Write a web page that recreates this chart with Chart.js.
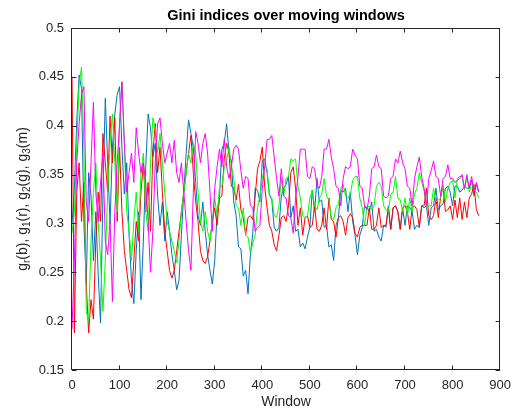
<!DOCTYPE html>
<html>
<head>
<meta charset="utf-8">
<script src="https://cdn.jsdelivr.net/npm/chart.js@4"></script>
<style>
  html, body { margin: 0; padding: 0; background: #fff; }
  #wrap { width: 519px; height: 414px; }
</style>
</head>
<body>
<div id="wrap"><canvas id="chart"></canvas></div>
<script>
// window index of every sample (step 5)
const windowStep = 5
const windows = Array.from({ length: 172 }, (_, i) => i * windowStep)

const giniB = [
    0.300, 0.335, 0.405, 0.452, 0.438, 0.300, 0.238, 0.352, 0.328, 0.262, 0.312, 0.248, 0.198, 0.330, 0.428, 0.362, 0.300, 0.378, 0.412, 0.432,
    0.440, 0.378, 0.330, 0.362, 0.288, 0.242, 0.218, 0.272, 0.312, 0.222, 0.282, 0.358, 0.412, 0.398, 0.368, 0.382, 0.328, 0.298, 0.322, 0.282,
    0.312, 0.292, 0.268, 0.252, 0.232, 0.242, 0.288, 0.332, 0.372, 0.406, 0.392, 0.378, 0.342, 0.308, 0.298, 0.322, 0.292, 0.268, 0.252, 0.238,
    0.262, 0.312, 0.328, 0.376, 0.382, 0.402, 0.372, 0.364, 0.322, 0.308, 0.276, 0.274, 0.246, 0.252, 0.228, 0.268, 0.290, 0.336, 0.334, 0.322,
    0.364, 0.366, 0.352, 0.330, 0.324, 0.296, 0.292, 0.296, 0.328, 0.336, 0.340, 0.348, 0.306, 0.318, 0.292, 0.294, 0.276, 0.280, 0.274, 0.286,
    0.296, 0.334, 0.312, 0.346, 0.322, 0.324, 0.296, 0.298, 0.276, 0.278, 0.262, 0.298, 0.306, 0.334, 0.332, 0.336, 0.312, 0.332, 0.302, 0.288,
    0.268, 0.288, 0.296, 0.318, 0.316, 0.312, 0.322, 0.292, 0.294, 0.286, 0.282, 0.298, 0.296, 0.318, 0.294, 0.316, 0.318, 0.312, 0.294, 0.316,
    0.298, 0.318, 0.316, 0.312, 0.294, 0.298, 0.296, 0.318, 0.316, 0.318, 0.298, 0.316, 0.318, 0.336, 0.314, 0.318, 0.320, 0.336, 0.338, 0.332,
    0.318, 0.338, 0.338, 0.332, 0.334, 0.338, 0.336, 0.336, 0.344, 0.328, 0.340, 0.332
]

const giniR = [
    0.450, 0.188, 0.332, 0.362, 0.302, 0.342, 0.238, 0.188, 0.222, 0.202, 0.282, 0.332, 0.302, 0.392, 0.362, 0.332, 0.410, 0.362, 0.408, 0.302,
    0.378, 0.312, 0.272, 0.252, 0.232, 0.224, 0.262, 0.302, 0.282, 0.332, 0.362, 0.312, 0.342, 0.292, 0.372, 0.402, 0.352, 0.378, 0.332, 0.292,
    0.272, 0.252, 0.244, 0.252, 0.272, 0.292, 0.312, 0.332, 0.352, 0.372, 0.390, 0.352, 0.322, 0.302, 0.272, 0.262, 0.259, 0.266, 0.282, 0.302,
    0.316, 0.298, 0.326, 0.328, 0.366, 0.382, 0.372, 0.338, 0.336, 0.324, 0.340, 0.314, 0.306, 0.288, 0.306, 0.308, 0.304, 0.328, 0.356, 0.364,
    0.378, 0.338, 0.316, 0.298, 0.292, 0.278, 0.272, 0.288, 0.306, 0.308, 0.302, 0.318, 0.352, 0.358, 0.336, 0.298, 0.316, 0.288, 0.306, 0.308,
    0.296, 0.298, 0.318, 0.294, 0.292, 0.298, 0.316, 0.294, 0.326, 0.304, 0.302, 0.286, 0.306, 0.308, 0.302, 0.288, 0.306, 0.310, 0.306, 0.290,
    0.286, 0.296, 0.298, 0.298, 0.298, 0.316, 0.294, 0.294, 0.298, 0.316, 0.296, 0.298, 0.298, 0.316, 0.294, 0.316, 0.318, 0.312, 0.294, 0.316,
    0.318, 0.312, 0.294, 0.316, 0.318, 0.314, 0.296, 0.318, 0.318, 0.336, 0.308, 0.304, 0.308, 0.326, 0.306, 0.328, 0.338, 0.312, 0.314, 0.318,
    0.304, 0.324, 0.306, 0.326, 0.304, 0.322, 0.306, 0.326, 0.330, 0.340, 0.314, 0.308
]

const giniG = [
    0.290, 0.312, 0.382, 0.442, 0.460, 0.378, 0.210, 0.200, 0.282, 0.332, 0.362, 0.302, 0.262, 0.210, 0.262, 0.332, 0.382, 0.412, 0.362, 0.312,
    0.402, 0.445, 0.382, 0.312, 0.292, 0.262, 0.302, 0.332, 0.292, 0.352, 0.372, 0.312, 0.292, 0.362, 0.408, 0.398, 0.372, 0.392, 0.362, 0.332,
    0.302, 0.292, 0.282, 0.272, 0.260, 0.282, 0.312, 0.332, 0.352, 0.372, 0.362, 0.382, 0.372, 0.332, 0.302, 0.292, 0.312, 0.292, 0.282, 0.302,
    0.326, 0.308, 0.336, 0.338, 0.356, 0.364, 0.378, 0.358, 0.346, 0.318, 0.316, 0.298, 0.316, 0.288, 0.286, 0.270, 0.280, 0.288, 0.316, 0.328,
    0.346, 0.358, 0.356, 0.328, 0.326, 0.308, 0.306, 0.318, 0.346, 0.328, 0.346, 0.348, 0.366, 0.364, 0.366, 0.338, 0.326, 0.308, 0.306, 0.308,
    0.326, 0.334, 0.318, 0.314, 0.326, 0.330, 0.346, 0.328, 0.324, 0.306, 0.304, 0.316, 0.320, 0.336, 0.340, 0.328, 0.326, 0.330, 0.344, 0.348,
    0.348, 0.326, 0.316, 0.298, 0.316, 0.318, 0.314, 0.318, 0.338, 0.342, 0.338, 0.318, 0.314, 0.312, 0.330, 0.332, 0.348, 0.326, 0.324, 0.312,
    0.326, 0.308, 0.326, 0.312, 0.330, 0.336, 0.352, 0.342, 0.334, 0.316, 0.318, 0.318, 0.336, 0.322, 0.324, 0.326, 0.340, 0.322, 0.336, 0.342,
    0.344, 0.326, 0.346, 0.348, 0.348, 0.334, 0.348, 0.332, 0.342, 0.334, 0.332, 0.326
]

const giniM = [
    0.192, 0.262, 0.362, 0.402, 0.432, 0.440, 0.322, 0.302, 0.362, 0.424, 0.332, 0.302, 0.342, 0.372, 0.282, 0.268, 0.302, 0.220, 0.312, 0.362,
    0.402, 0.445, 0.382, 0.332, 0.352, 0.372, 0.342, 0.398, 0.372, 0.352, 0.362, 0.342, 0.302, 0.250, 0.292, 0.362, 0.402, 0.408, 0.382, 0.362,
    0.372, 0.382, 0.362, 0.385, 0.352, 0.342, 0.362, 0.332, 0.302, 0.272, 0.252, 0.332, 0.394, 0.382, 0.362, 0.382, 0.392, 0.372, 0.332, 0.292,
    0.336, 0.358, 0.376, 0.358, 0.386, 0.358, 0.346, 0.358, 0.376, 0.380, 0.376, 0.354, 0.336, 0.348, 0.346, 0.318, 0.316, 0.292, 0.296, 0.298,
    0.336, 0.358, 0.386, 0.386, 0.390, 0.368, 0.346, 0.328, 0.356, 0.328, 0.326, 0.308, 0.306, 0.290, 0.326, 0.348, 0.376, 0.376, 0.376, 0.348,
    0.346, 0.358, 0.356, 0.338, 0.336, 0.348, 0.376, 0.376, 0.386, 0.368, 0.356, 0.338, 0.336, 0.318, 0.346, 0.358, 0.356, 0.358, 0.376, 0.370,
    0.366, 0.338, 0.336, 0.318, 0.314, 0.328, 0.356, 0.358, 0.370, 0.358, 0.356, 0.328, 0.326, 0.328, 0.346, 0.348, 0.366, 0.362, 0.374, 0.362,
    0.356, 0.338, 0.336, 0.318, 0.346, 0.358, 0.368, 0.348, 0.336, 0.318, 0.346, 0.354, 0.364, 0.348, 0.346, 0.328, 0.346, 0.348, 0.360, 0.346,
    0.346, 0.342, 0.344, 0.346, 0.350, 0.336, 0.350, 0.336, 0.348, 0.332, 0.342, 0.332
]

const xTicks = [0, 100, 200, 300, 400, 500, 600, 700, 800, 900]
const yTicks = [0.15, 0.2, 0.25, 0.3, 0.35, 0.4, 0.45, 0.5]

// y label pieces: [text, isSubscript]
const yLabelParts = [
    ['g', false], ['r', true], ['(b), g', false], ['1', true], ['(r), g', false],
    ['2', true], ['(g), g', false], ['3', true], ['(m)', false]
]

const FONT = "'Liberation Sans', Arial, Helvetica, sans-serif"
const AXIS_COLOR = '#262626'

function series(values) {
    return values.map((v, i) => ({ x: windows[i], y: v }))
}

// box round the axes, inward tick marks, and the y label with subscripts
const matlabFrame = {
    id: 'matlabFrame',
    afterDraw(chart) {
        const { ctx, chartArea: a, scales } = chart
        const tick = 4.5
        ctx.save()
        ctx.strokeStyle = AXIS_COLOR
        ctx.lineWidth = 1
        ctx.beginPath()
        ctx.rect(Math.round(a.left) - 0.5, Math.round(a.top) + 0.5,
            Math.round(a.right - a.left), Math.round(a.bottom - a.top) - 1)
        xTicks.forEach(v => {
            const px = Math.round(scales.x.getPixelForValue(v)) - 0.5
            ctx.moveTo(px, a.bottom); ctx.lineTo(px, a.bottom - tick)
            ctx.moveTo(px, a.top); ctx.lineTo(px, a.top + tick)
        })
        yTicks.forEach(v => {
            const py = Math.round(scales.y.getPixelForValue(v)) + 0.5
            ctx.moveTo(a.left, py); ctx.lineTo(a.left + tick, py)
            ctx.moveTo(a.right, py); ctx.lineTo(a.right - tick, py)
        })
        ctx.stroke()

        // rotated y label
        const mainFont = '14px ' + FONT
        const subFont = '10px ' + FONT
        let total = 0
        yLabelParts.forEach(([t, sub]) => {
            ctx.font = sub ? subFont : mainFont
            total += ctx.measureText(t).width
        })
        ctx.translate(22, (a.top + a.bottom) / 2)
        ctx.rotate(-Math.PI / 2)
        ctx.fillStyle = AXIS_COLOR
        ctx.textBaseline = 'alphabetic'
        let x = -total / 2
        yLabelParts.forEach(([t, sub]) => {
            ctx.font = sub ? subFont : mainFont
            ctx.fillText(t, x, sub ? 7.5 : 4.5)
            x += ctx.measureText(t).width
        })
        ctx.restore()
    }
}

const config = {
    type: 'line',
    data: {
        datasets: [
            { label: 'g_r(b)', data: series(giniB), borderColor: '#0072BD', order: 4 },
            { label: 'g_1(r)', data: series(giniR), borderColor: '#FF0000', order: 3 },
            { label: 'g_2(g)', data: series(giniG), borderColor: '#00FF00', order: 2 },
            { label: 'g_3(m)', data: series(giniM), borderColor: '#FF00FF', order: 1 }
        ]
    },
    options: {
        responsive: true,
        maintainAspectRatio: false,
        animation: false,
        layout: { padding: { left: 0, right: 13, top: 0, bottom: 0 } },
        elements: {
            line: { borderWidth: 1, tension: 0 },
            point: { radius: 0 }
        },
        plugins: {
            legend: { display: false },
            tooltip: { enabled: false },
            title: {
                display: true,
                text: 'Gini indices over moving windows',
                fullSize: false,
                color: '#000',
                font: { family: FONT, size: 14.5, weight: 'bold' },
                padding: { top: 7, bottom: 3.6 }
            }
        },
        scales: {
            x: {
                type: 'linear',
                min: 0,
                max: 900,
                grid: { display: false, drawTicks: false },
                border: { display: false },
                afterBuildTicks: s => { s.ticks = xTicks.map(v => ({ value: v })) },
                afterFit: s => { s.height = 44 },
                ticks: {
                    color: AXIS_COLOR,
                    padding: 8,
                    maxRotation: 0,
                    font: { family: FONT, size: 13 },
                    callback: v => String(v)
                },
                title: {
                    display: true,
                    text: 'Window',
                    color: AXIS_COLOR,
                    font: { family: FONT, size: 14 },
                    padding: { top: 0, bottom: 3 }
                }
            },
            y: {
                min: 0.15,
                max: 0.5,
                grid: { display: false, drawTicks: false },
                border: { display: false },
                afterBuildTicks: s => { s.ticks = yTicks.map(v => ({ value: v })) },
                afterFit: s => { s.width = 72 },
                ticks: {
                    color: AXIS_COLOR,
                    padding: 8,
                    font: { family: FONT, size: 13 },
                    callback: v => String(v)
                }
            }
        }
    },
    plugins: [matlabFrame]
}

document.addEventListener('DOMContentLoaded', function () {
    const ctx = document.getElementById('chart').getContext('2d')
    new Chart(ctx, config)
})
</script>
</body>
</html>
